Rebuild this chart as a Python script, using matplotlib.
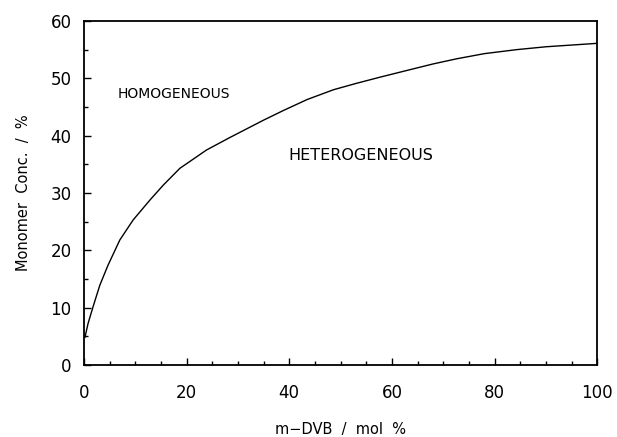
import numpy as np
import matplotlib
matplotlib.use("Agg")
import matplotlib.pyplot as plt
from matplotlib.ticker import MultipleLocator

# === data ===
dvb = [0.2, 0.8, 1.8, 3.1, 4.7, 7.0, 9.6, 12.9, 15.5, 18.7, 23.9, 28.5,
       32.4, 35.0, 38.9, 43.5, 48.6, 53.0, 57.7, 63.5, 68.0, 72.6, 78.0,
       84.3, 90.0, 95.0, 100.0]
conc = [4.8, 7.2, 10.2, 13.9, 17.4, 21.8, 25.3, 28.8, 31.4, 34.3, 37.5, 39.7,
        41.5, 42.7, 44.4, 46.3, 48.0, 49.1, 50.2, 51.5, 52.5, 53.4, 54.3,
        55.0, 55.5, 55.8, 56.1]

region_labels = ["HOMOGENEOUS", "HETEROGENEOUS"]
label_x = [6.6, 39.8]
label_y = [47.3, 36.5]
label_size = [10, 11.5]

plt.rcParams["font.family"] = ["DejaVu Sans"]

fig = plt.figure(figsize=(6.17, 4.37), dpi=100)
ax = fig.add_axes([0.136, 0.165, 0.832, 0.787])

ax.plot(dvb, conc, color="black", linewidth=1.0)

for txt, x, y, fs in zip(region_labels, label_x, label_y, label_size):
    ax.text(x, y, txt, fontsize=fs, ha="left", va="center")

ax.set_xlim(0, 100)
ax.set_ylim(0, 60)
ax.xaxis.set_major_locator(MultipleLocator(20))
ax.xaxis.set_minor_locator(MultipleLocator(5))
ax.yaxis.set_major_locator(MultipleLocator(10))
ax.yaxis.set_minor_locator(MultipleLocator(5))

ax.tick_params(which="both", direction="in", top=False, right=False, width=1.0)
ax.tick_params(which="major", length=5, labelsize=12)
ax.tick_params(axis="x", which="major", pad=14)
ax.tick_params(axis="y", which="major", pad=9)
ax.tick_params(which="minor", length=3)

for s in ax.spines.values():
    s.set_linewidth(1.3)

ax.set_xlabel("m\u2212DVB  /  mol  %", fontsize=10.5, labelpad=14)
ax.set_ylabel("Monomer  Conc.  /  %", fontsize=10.5, labelpad=14)

fig.savefig("out.png", dpi=100)
plt.close(fig)
